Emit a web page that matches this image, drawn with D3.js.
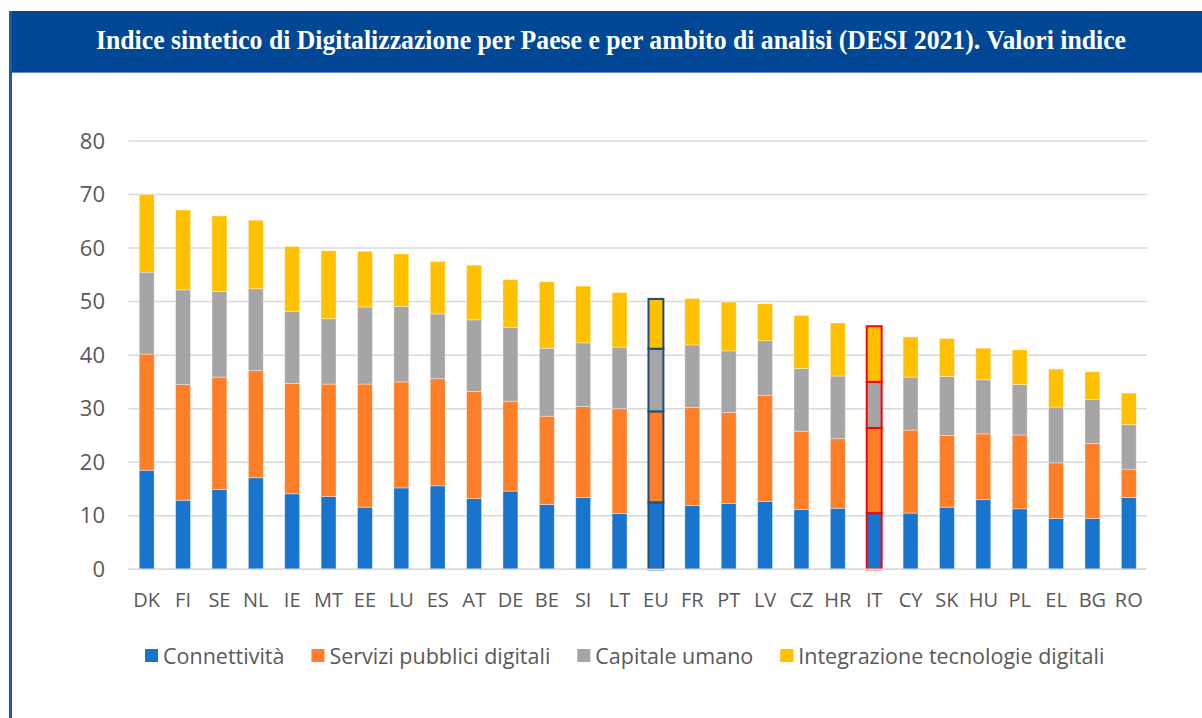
<!DOCTYPE html>
<html>
<head>
<meta charset="utf-8">
<script src="https://cdn.jsdelivr.net/npm/d3@7"></script>
<style>
  html, body { margin: 0; padding: 0; background: #fff; }
  svg { display: block; }
</style>
</head>
<body>
<div id="chart"></div>
<script>
// data
const countries = ["DK","FI","SE","NL","IE","MT","EE","LU","ES","AT","DE","BE","SI","LT","EU","FR","PT","LV","CZ","HR","IT","CY","SK","HU","PL","EL","BG","RO"];
const connettivita = [18.5,12.9,14.9,17.1,14.1,13.6,11.6,15.2,15.6,13.2,14.6,12.1,13.4,10.4,12.5,11.9,12.3,12.7,11.2,11.4,10.5,10.5,11.6,13.0,11.3,9.5,9.5,13.4];
const servizi      = [21.7,21.6,21.0,20.0,20.6,21.0,23.0,19.8,20.0,20.0,16.8,16.5,17.0,19.6,17.0,18.3,17.0,19.8,14.6,13.0,15.9,15.5,13.4,12.3,13.8,10.4,14.0,5.3];
const capitale     = [15.3,17.7,16.0,15.3,13.5,12.2,14.4,14.1,12.1,13.4,13.8,12.7,11.9,11.5,11.7,11.7,11.5,10.2,11.7,11.7,8.6,9.9,11.0,10.1,9.4,10.4,8.2,8.3];
const integrazione = [14.5,14.9,14.1,12.8,12.1,12.7,10.4,9.8,9.8,10.2,8.9,12.4,10.6,10.2,9.3,8.7,9.1,6.9,9.9,9.9,10.4,7.5,7.1,5.9,6.5,7.1,5.2,5.9];
const seriesNames = ["Connettività","Servizi pubblici digitali","Capitale umano","Integrazione tecnologie digitali"];
const yTicks = [0,10,20,30,40,50,60,70,80];
const title = "Indice sintetico di Digitalizzazione per Paese e per ambito di analisi (DESI 2021). Valori indice";

const W = 1202, H = 718;
const colors = ["#1874cd", "#fe7f27", "#a5a5a5", "#ffc000"];
const highlight = { EU: "#1f4e79", IT: "#ff0000" };

const svg = d3.select("#chart").append("svg")
    .attr("width", W).attr("height", H);

// header band + left frame line
svg.append("rect").attr("x", 9).attr("y", 11).attr("width", W - 9).attr("height", 62)
    .attr("fill", "#004895");
svg.append("line").attr("x1", 9).attr("x2", W).attr("y1", 72.5).attr("y2", 72.5)
    .attr("stroke", "#5a8bc9").attr("stroke-width", 1);
svg.append("line").attr("x1", 10.5).attr("x2", 10.5).attr("y1", 11).attr("y2", H)
    .attr("stroke", "#1f5aa8").attr("stroke-width", 3);

svg.append("text")
    .attr("x", 611).attr("y", 49)
    .attr("text-anchor", "middle")
    .attr("textLength", 1030).attr("lengthAdjust", "spacingAndGlyphs")
    .style("font-family", "'Liberation Serif', serif")
    .style("font-weight", "bold")
    .style("font-size", "27px")
    .attr("fill", "#fff")
    .text(title);

// scales
const x = d3.scaleBand()
    .domain(countries)
    .range([128.5, 1147])
    .paddingInner(0.59)
    .paddingOuter(0.295);

const y = d3.scaleLinear()
    .domain([0, 80])
    .range([569.3, 141]);

// gridlines
svg.append("g")
    .selectAll("line")
    .data(yTicks)
    .join("line")
    .attr("x1", 128.5).attr("x2", 1147)
    .attr("y1", d => y(d)).attr("y2", d => y(d))
    .attr("stroke", "#d9d9d9").attr("stroke-width", 1.5);

// y axis labels
const yAxis = svg.append("g")
    .attr("transform", "translate(105,0)")
    .call(d3.axisLeft(y).tickValues(yTicks).tickSize(0).tickPadding(0));
yAxis.select(".domain").remove();
yAxis.selectAll("text")
    .style("font-family", "'Open Sans', sans-serif")
    .style("font-size", "22px")
    .attr("fill", "#595959");

// stacked bars
const table = countries.map((c, i) => ({
    country: c,
    [seriesNames[0]]: connettivita[i],
    [seriesNames[1]]: servizi[i],
    [seriesNames[2]]: capitale[i],
    [seriesNames[3]]: integrazione[i]
}));
const stacked = d3.stack().keys(seriesNames)(table);

svg.append("g")
    .selectAll("g")
    .data(stacked)
    .join("g")
    .attr("fill", (d, i) => colors[i])
    .selectAll("rect")
    .data(d => d)
    .join("rect")
    .attr("x", d => x(d.data.country))
    .attr("y", d => y(d[1]))
    .attr("width", x.bandwidth())
    .attr("height", d => y(d[0]) - y(d[1]))
    .attr("stroke", d => highlight[d.data.country] || "rgba(255,255,255,0.45)")
    .attr("stroke-width", d => highlight[d.data.country] ? 2 : 0.8);

// x axis
svg.append("line")
    .attr("x1", 128.5).attr("x2", 1147)
    .attr("y1", y(0)).attr("y2", y(0))
    .attr("stroke", "#d9d9d9").attr("stroke-width", 1.5);

const xAxis = svg.append("g")
    .attr("transform", "translate(0," + y(0) + ")")
    .call(d3.axisBottom(x).tickSize(0).tickPadding(24));
xAxis.select(".domain").remove();
xAxis.selectAll("text")
    .style("font-family", "'Open Sans', sans-serif")
    .style("font-size", "20px")
    .attr("fill", "#595959");

// legend
const legend = svg.append("g").attr("transform", "translate(0,656)");
let lx = 145;
seriesNames.forEach((name, i) => {
    const g = legend.append("g").attr("transform", "translate(" + lx + ",0)");
    g.append("rect").attr("x", 0).attr("y", -7).attr("width", 13).attr("height", 13)
        .attr("fill", colors[i]);
    const t = g.append("text")
        .attr("x", 18).attr("y", 0)
        .attr("dy", "0.36em")
        .style("font-family", "'Open Sans', sans-serif")
        .style("font-size", "21.5px")
        .attr("fill", "#595959")
        .text(name);
    lx += 18 + t.node().getComputedTextLength() + 27;
});
</script>
</body>
</html>
